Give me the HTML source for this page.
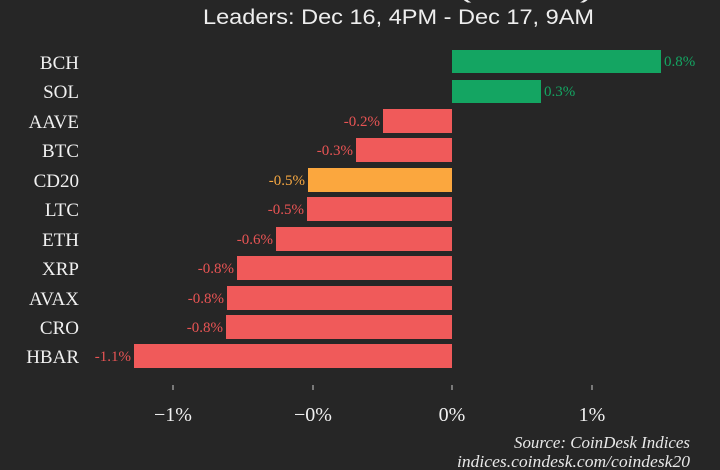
<!DOCTYPE html>
<html><head><meta charset="utf-8"><style>
html,body{margin:0;padding:0;background:#262626;}
svg{display:block}
.y{font-family:"Liberation Serif",serif;font-size:19px;fill:#f0f0f0;text-anchor:end}
.v{font-family:"Liberation Serif",serif;font-size:15px}
.t{font-family:"Liberation Serif",serif;font-size:20px;fill:#f0f0f0;text-anchor:middle}
</style></head><body>
<svg width="720" height="470" xmlns="http://www.w3.org/2000/svg">
<rect width="720" height="470" fill="#262626"/>
<text x="203" y="-2" textLength="391" lengthAdjust="spacingAndGlyphs" font-family="Liberation Sans,sans-serif" font-size="21" fill="#eeeeee">CoinDesk 20 (CD20)</text>
<text x="203" y="24" textLength="391" lengthAdjust="spacingAndGlyphs" font-family="Liberation Sans,sans-serif" font-size="21" fill="#eeeeee">Leaders: Dec 16, 4PM - Dec 17, 9AM</text>
<g>
<rect x="452" y="50" width="209" height="23" fill="#14a562"/>
<text class="y" x="79" y="69">BCH</text><text class="v" x="664" y="66" fill="#14a562">0.8%</text>
<rect x="452" y="80" width="89" height="23" fill="#14a562"/>
<text class="y" x="79" y="98">SOL</text><text class="v" x="544" y="96" fill="#14a562">0.3%</text>
<rect x="383" y="109" width="69" height="24" fill="#f05a5a"/>
<text class="y" x="79" y="128">AAVE</text><text class="v" x="380" y="126" fill="#e85454" text-anchor="end">-0.2%</text>
<rect x="356" y="138" width="96" height="24" fill="#f05a5a"/>
<text class="y" x="79" y="157">BTC</text><text class="v" x="353" y="155" fill="#e85454" text-anchor="end">-0.3%</text>
<rect x="308" y="168" width="144" height="24" fill="#fba73e"/>
<text class="y" x="79" y="187">CD20</text><text class="v" x="305" y="185" fill="#f5a742" text-anchor="end">-0.5%</text>
<rect x="307" y="197" width="145" height="24" fill="#f05a5a"/>
<text class="y" x="79" y="216">LTC</text><text class="v" x="304" y="214" fill="#e85454" text-anchor="end">-0.5%</text>
<rect x="276" y="227" width="176" height="24" fill="#f05a5a"/>
<text class="y" x="79" y="246">ETH</text><text class="v" x="273" y="244" fill="#e85454" text-anchor="end">-0.6%</text>
<rect x="237" y="256" width="215" height="24" fill="#f05a5a"/>
<text class="y" x="79" y="275">XRP</text><text class="v" x="234" y="273" fill="#e85454" text-anchor="end">-0.8%</text>
<rect x="227" y="286" width="225" height="24" fill="#f05a5a"/>
<text class="y" x="79" y="305">AVAX</text><text class="v" x="224" y="303" fill="#e85454" text-anchor="end">-0.8%</text>
<rect x="226" y="315" width="226" height="24" fill="#f05a5a"/>
<text class="y" x="79" y="334">CRO</text><text class="v" x="223" y="332" fill="#e85454" text-anchor="end">-0.8%</text>
<rect x="134" y="344" width="318" height="24" fill="#f05a5a"/>
<text class="y" x="79" y="363">HBAR</text><text class="v" x="131" y="361" fill="#e85454" text-anchor="end">-1.1%</text>
</g>
<g stroke="#cccccc" stroke-width="1">
<line x1="173" y1="385" x2="173" y2="390"/><line x1="313" y1="385" x2="313" y2="390"/>
<line x1="452" y1="385" x2="452" y2="390"/><line x1="592" y1="385" x2="592" y2="390"/>
</g>
<text class="t" x="173" y="421">−1%</text><text class="t" x="313" y="421">−0%</text>
<text class="t" x="452" y="421">0%</text><text class="t" x="592" y="421">1%</text>
<text x="514" y="448" textLength="176" lengthAdjust="spacingAndGlyphs" font-family="Liberation Serif,serif" font-style="italic" font-size="17" fill="#e8e8e8">Source: CoinDesk Indices</text>
<text x="457" y="467" textLength="233" lengthAdjust="spacingAndGlyphs" font-family="Liberation Serif,serif" font-style="italic" font-size="17" fill="#e8e8e8">indices.coindesk.com/coindesk20</text>
</svg>
</body></html>
